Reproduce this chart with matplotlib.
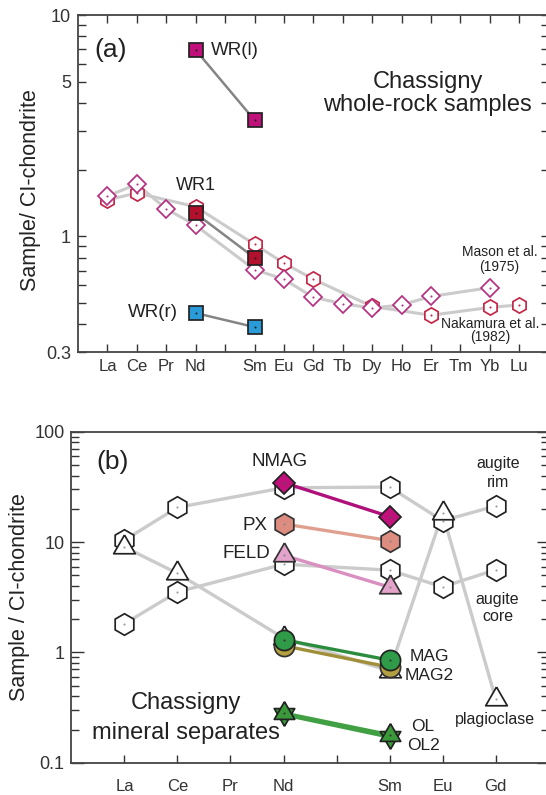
import numpy as np
import matplotlib
matplotlib.use("Agg")
import matplotlib.pyplot as plt
from matplotlib.ticker import FixedLocator, FixedFormatter, NullFormatter

plt.rcParams['font.family'] = ['Liberation Sans', 'DejaVu Sans']
plt.rcParams['text.color'] = '#222222'

nan = np.nan

# ---- panel (a): whole-rock REE patterns ----
ree_a = ['La', 'Ce', 'Pr', 'Nd', 'Pm', 'Sm', 'Eu', 'Gd', 'Tb', 'Dy', 'Ho', 'Er', 'Tm', 'Yb', 'Lu']
mason = [1.52, 1.72, 1.33, 1.12, nan, 0.707, 0.64, 0.53, 0.496, 0.474, 0.49, 0.535, nan, 0.586, nan]
nakamura = [1.46, 1.57, nan, 1.36, nan, 0.92, 0.757, 0.64, nan, 0.482, nan, 0.44, nan, 0.477, 0.49]
wr_l = [nan, nan, nan, 6.95, nan, 3.35] + [nan] * 9
wr1 = [nan, nan, nan, 1.27, nan, 0.80] + [nan] * 9
wr_r = [nan, nan, nan, 0.45, nan, 0.389] + [nan] * 9

# ---- panel (b): mineral separates ----
ree_b = ['La', 'Ce', 'Pr', 'Nd', 'Pm', 'Sm', 'Eu', 'Gd']
aug_rim = [10.4, 20.6, nan, 31.0, nan, 31.5, 15.6, 21.2]
aug_core = [1.82, 3.53, nan, 6.3, nan, 5.56, 3.92, 5.6]
plag = [9.0, 5.2, nan, 1.35, nan, 0.68, 18.2, 0.38]
nmag = [nan, nan, nan, 34.6, nan, 17.0, nan, nan]
px = [nan, nan, nan, 14.6, nan, 10.3, nan, nan]
feld = [nan, nan, nan, 7.6, nan, 3.9, nan, nan]
mag = [nan, nan, nan, 1.30, nan, 0.85, nan, nan]
mag2 = [nan, nan, nan, 1.15, nan, 0.735, nan, nan]
ol = [nan, nan, nan, 0.28, nan, 0.178, nan, nan]
ol2 = [nan, nan, nan, 0.275, nan, 0.172, nan, nan]

tri_up = [(0, 1), (-0.866, -0.5), (0.866, -0.5), (0, 1)]
tri_dn = [(0, -1), (-0.866, 0.5), (0.866, 0.5), (0, -1)]


def series(ax, vals, marker, ms, fc, ec, lc, lw, dotc, z, mew=1.25):
    v = np.array(vals, dtype=float)
    x = np.arange(len(v))[np.isfinite(v)]
    y = v[np.isfinite(v)]
    if lc is not None:
        ax.plot(x, y, '-', color=lc, lw=lw, zorder=1 + z * 0.01, solid_capstyle='round')
    ax.plot(x, y, ls='none', marker=marker, ms=ms, mfc=fc, mec=ec, mew=mew, zorder=3 + z * 0.1)
    ax.plot(x, y, ls='none', marker='o', ms=1.5, mfc=dotc, mec='none', zorder=3 + z * 0.1 + 0.05)


def style(ax, names, ylim, majors, major_labels, minors, top_ticks, maj_len, pad_x):
    ax.set_yscale('log')
    ax.set_ylim(*ylim)
    ax.set_xlim(-1, len(names))
    ax.yaxis.set_major_locator(FixedLocator(majors))
    ax.yaxis.set_major_formatter(FixedFormatter(major_labels))
    ax.yaxis.set_minor_locator(FixedLocator(minors))
    ax.yaxis.set_minor_formatter(NullFormatter())
    ax.set_xticks(range(len(names)))
    ax.set_xticklabels(['' if n == 'Pm' else n for n in names])
    ax.tick_params(axis='y', which='major', direction='in', length=maj_len, width=1.0,
                   labelsize=13, pad=5, left=True, right=True, colors='#333333')
    ax.tick_params(axis='y', which='minor', direction='in', length=5.5, width=1.0,
                   left=True, right=True, colors='#333333')
    ax.tick_params(axis='x', which='major', direction='in', length=6, width=1.0,
                   labelsize=12, pad=pad_x, top=top_ticks, bottom=True, colors='#333333')
    for s in ax.spines.values():
        s.set_color('#444444')
        s.set_linewidth(1.3)


fig = plt.figure(figsize=(5.46, 7.95), dpi=100)

# ---------------- (a) ----------------
ax1 = fig.add_axes([0.1429, 0.5572, 0.862, 0.4239])
gray = '#cbcbcb'
series(ax1, nakamura, 'h', 11, 'white', '#c2284a', gray, 2.2, '#c2284a', 1)
series(ax1, mason, 'D', 9, 'white', '#b5307f', gray, 2.2, '#b5307f', 2)
series(ax1, wr_l, 's', 10.3, '#c0107a', '#222222', '#858585', 1.8, '#222222', 3)
series(ax1, wr1, 's', 10.3, '#b3102e', '#222222', '#858585', 1.8, '#222222', 4)
series(ax1, wr_r, 's', 10.3, '#2a9bd9', '#222222', '#858585', 1.8, '#222222', 5)

style(ax1, ree_a, (0.3, 10), [0.3, 1, 5, 10], ['0.3', '1', '5', '10'],
      [0.4, 0.5, 0.6, 0.7, 0.8, 0.9, 2, 3, 4, 6, 7, 8, 9], True, 6, 5)
ax1.set_ylabel('Sample/ CI-chondrite', fontsize=15.5, color='#222222')
ax1.yaxis.set_label_coords(-0.079, 0.48)

t = ax1.transAxes
ax1.text(0.070, 0.896, '(a)', transform=t, fontsize=19, ha='center', va='center')
ax1.text(0.283, 0.896, 'WR(l)', transform=t, fontsize=13.5, ha='left', va='center')
ax1.text(0.743, 0.802, 'Chassigny', transform=t, fontsize=17, ha='center', va='center')
ax1.text(0.743, 0.733, 'whole-rock samples', transform=t, fontsize=17, ha='center', va='center')
ax1.text(0.2495, 0.4955, 'WR1', transform=t, fontsize=13, ha='center', va='center')
ax1.text(0.212, 0.117, 'WR(r)', transform=t, fontsize=13.5, ha='right', va='center')
ax1.text(0.8955, 0.297, 'Mason et al.', transform=t, fontsize=10, ha='center', va='center')
ax1.text(0.8955, 0.252, '(1975)', transform=t, fontsize=10, ha='center', va='center')
ax1.text(0.876, 0.083, 'Nakamura et al.', transform=t, fontsize=10, ha='center', va='center')
ax1.text(0.876, 0.0445, '(1982)', transform=t, fontsize=10, ha='center', va='center')

# ---------------- (b) ----------------
ax2 = fig.add_axes([0.1308, 0.0406, 0.874, 0.4164])
series(ax2, aug_rim, 'h', 15.5, 'white', '#222222', gray, 2.4, '#999999', 1)
series(ax2, aug_core, 'h', 15.5, 'white', '#222222', gray, 2.4, '#999999', 2)
series(ax2, plag, tri_up, 18, 'white', '#222222', gray, 2.4, '#999999', 3)
series(ax2, nmag, 'D', 11.7, '#c0107a', '#222222', '#b0107a', 2.4, '#555555', 6)
series(ax2, px, 'h', 15.5, '#dd8c80', '#333333', '#e0a090', 2.4, '#888888', 5)
series(ax2, feld, tri_up, 18, '#e3a3cb', '#333333', '#d98fc0', 2.4, '#888888', 5.5)
series(ax2, mag2, 'o', 14.5, '#b3a040', '#333333', '#a08f38', 2.4, '#555555', 7)
series(ax2, mag, 'o', 14.5, '#2f9a47', '#222222', '#2a8c3c', 2.4, '#333333', 8)
series(ax2, ol2, tri_dn, 17, '#3a9a3a', '#222222', '#42a044', 3.0, '#333333', 9)
series(ax2, ol, tri_up, 17, '#3a9a3a', '#222222', '#42a044', 3.0, '#333333', 9.5)

style(ax2, ree_b, (0.1, 100), [0.1, 1, 10, 100], ['0.1', '1', '10', '100'],
      [m * 10.0 ** e for e in (-1, 0, 1) for m in range(2, 10)], False, 9, 12)
ax2.set_ylabel('Sample / CI-chondrite', fontsize=15.5, color='#222222')
ax2.yaxis.set_label_coords(-0.087, 0.5)

t = ax2.transAxes
ax2.text(0.0854, 0.9087, '(b)', transform=t, fontsize=19, ha='center', va='center')
ax2.text(0.4357, 0.9094, 'NMAG', transform=t, fontsize=13.5, ha='center', va='center')
ax2.text(0.41, 0.718, 'PX', transform=t, fontsize=13.5, ha='right', va='center')
ax2.text(0.417, 0.6326, 'FELD', transform=t, fontsize=13.5, ha='right', va='center')
ax2.text(0.894, 0.9045, 'augite', transform=t, fontsize=11.5, ha='center', va='center')
ax2.text(0.894, 0.846, 'rim', transform=t, fontsize=11.5, ha='center', va='center')
ax2.text(0.893, 0.4937, 'augite', transform=t, fontsize=11.5, ha='center', va='center')
ax2.text(0.893, 0.441, 'core', transform=t, fontsize=11.5, ha='center', va='center')
ax2.text(0.8886, 0.131, 'plagioclase', transform=t, fontsize=11.5, ha='center', va='center')
ax2.text(0.7077, 0.32, 'MAG', transform=t, fontsize=12.5, ha='left', va='center')
ax2.text(0.699, 0.262, 'MAG2', transform=t, fontsize=12.5, ha='left', va='center')
ax2.text(0.712, 0.109, 'OL', transform=t, fontsize=12.5, ha='left', va='center')
ax2.text(0.7027, 0.0535, 'OL2', transform=t, fontsize=12.5, ha='left', va='center')
ax2.text(0.24, 0.1795, 'Chassigny', transform=t, fontsize=17, ha='center', va='center')
ax2.text(0.239, 0.0906, 'mineral separates', transform=t, fontsize=17, ha='center', va='center')

fig.savefig('out.png', dpi=100)
